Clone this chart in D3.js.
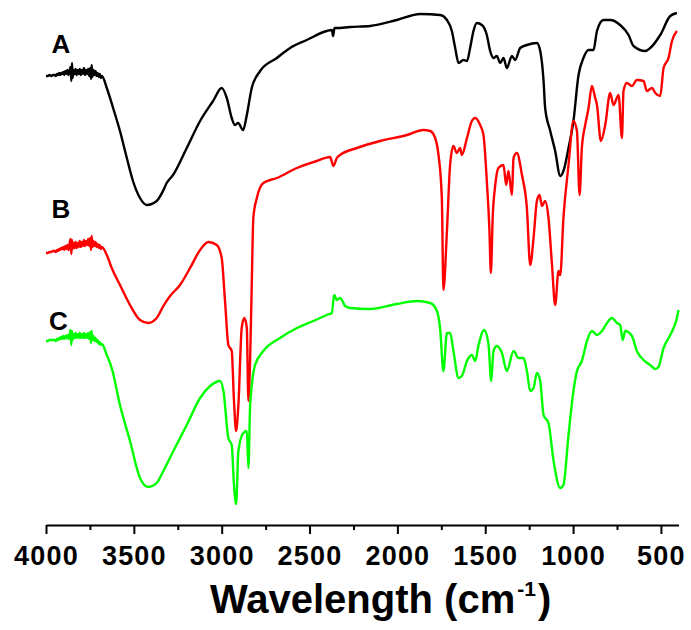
<!DOCTYPE html>
<html>
<head>
<meta charset="utf-8">
<script src="https://cdn.jsdelivr.net/npm/d3@7"></script>
<style>
  html, body { margin: 0; padding: 0; background: #fff; }
  svg { display: block; }
  text { font-family: "Liberation Sans", Arial, sans-serif; font-weight: bold; }
</style>
</head>
<body>
<svg id="chart" width="691" height="630"></svg>
<script>
// ---- data (wavenumber cm-1, transmittance in arbitrary offset units) ----
const spectrumA = [
  [4000,444],[3990,444],[3980,445],[3970,444],[3960,445],
  [3950,445],[3944,444],[3938,446],[3932,445],[3926,447],[3920,445],[3914,447],[3908,446],[3902,448],
  [3896,445],[3890,449],[3884,446],[3878,450],[3872,445],[3866,449],[3860,453],[3856,439],[3852,457],
  [3848,442],[3844,450],[3838,446],[3832,451],[3826,445],[3820,450],[3814,446],[3808,451],[3802,445],
  [3796,450],[3790,446],[3784,452],[3778,445],[3772,450],[3766,446],[3760,451],[3754,444],[3748,452],
  [3744,441],[3740,455],[3736,443],[3730,450],[3724,445],[3718,449],[3712,444],[3706,447],[3700,443],
  [3694,446],[3688,442],[3682,444],
  [3654,432],[3618,412],[3579,389],[3540,362],[3505,339],[3465,322],[3427,315],[3370,319],[3334,329],
  [3313,337],[3277,345],[3199,372],[3123,399],[3049,419],[3000,432],[2971,422],[2943,402],[2924,395],
  [2907,397],[2878,390],[2857,405],[2829,432],[2781,449],[2686,462],[2611,472],[2516,480],[2402,489],
  [2373,490],[2366,484],[2358,492],[2345,492],[2269,493],[2155,494],[2003,500],[1870,506],[1757,505],
  [1718,500],[1690,489],[1671,472],[1652,457],[1624,460],[1604,459],[1586,472],[1567,489],[1548,497],
  [1519,495],[1491,485],[1472,469],[1453,462],[1434,464],[1415,457],[1396,462],[1377,452],[1348,464],
  [1330,460],[1301,472],[1263,475],[1206,477],[1187,469],[1168,439],[1159,412],[1130,389],[1102,369],
  [1073,344],[1055,349],[1026,372],[998,399],[969,445],[941,462],[912,470],[884,470],[864,489],
  [827,500],[789,500],[732,495],[684,485],[656,474],[589,469],[561,472],[504,485],[447,504],[409,507]
];
const spectrumB = [
  [4000,267],[3990,267],[3980,268],[3970,268],[3960,269],
  [3950,269],[3944,268],[3938,270],[3932,269],[3926,271],[3920,270],[3914,272],[3908,271],[3902,273],
  [3896,270],[3890,274],[3884,271],[3878,275],[3872,270],[3866,276],[3860,281],[3856,266],[3852,280],
  [3848,271],[3844,277],[3838,272],[3832,278],[3826,272],[3820,277],[3814,273],[3808,279],[3802,273],
  [3796,278],[3790,274],[3784,280],[3778,274],[3772,279],[3766,275],[3760,281],[3754,274],[3748,282],
  [3744,270],[3740,284],[3736,273],[3730,279],[3724,274],[3718,278],[3712,273],[3706,276],[3700,272],
  [3694,275],[3688,271],[3682,273],
  [3654,265],[3626,252],[3579,235],[3522,215],[3465,200],[3418,197],[3370,202],[3332,214],[3294,224],
  [3237,235],[3180,252],[3123,270],[3076,278],[3028,275],[3000,262],[2981,219],[2962,175],[2943,169],
  [2930,119],[2918,89],[2905,115],[2886,192],[2871,202],[2857,192],[2848,119],[2838,162],[2829,235],
  [2820,302],[2800,322],[2763,337],[2686,342],[2572,352],[2459,359],[2383,363],[2364,354],[2345,362],
  [2326,365],[2231,372],[2098,379],[1946,385],[1852,390],[1813,389],[1785,382],[1766,365],[1747,322],
  [1738,230],[1718,289],[1700,355],[1681,374],[1662,367],[1643,372],[1633,365],[1604,382],[1576,399],
  [1557,402],[1529,395],[1510,385],[1491,339],[1476,289],[1468,247],[1457,305],[1443,335],[1425,352],
  [1396,355],[1381,335],[1368,349],[1348,325],[1339,362],[1320,367],[1291,345],[1263,312],[1244,255],
  [1225,282],[1206,319],[1191,325],[1177,314],[1159,319],[1140,302],[1120,255],[1102,215],[1083,249],
  [1073,245],[1055,302],[1026,355],[998,399],[978,389],[963,325],[950,372],[931,395],[912,412],
  [893,434],[874,422],[864,415],[842,379],[817,395],[789,427],[770,415],[741,425],[722,382],[713,429],
  [694,437],[665,434],[637,440],[599,439],[580,429],[551,432],[532,427],[504,424],[485,452],[457,462],
  [437,479],[409,489]
];
const spectrumC = [
  [4000,179],[3990,179],[3980,180],[3970,180],[3960,180],
  [3950,180],[3944,179],[3938,181],[3932,180],[3926,182],[3920,181],[3914,183],[3908,181],[3902,184],
  [3896,181],[3890,184],[3884,182],[3878,185],[3872,181],[3866,185],[3860,190],[3856,175],[3852,189],
  [3848,180],[3844,186],[3838,182],[3832,187],[3826,182],[3820,186],[3814,182],[3808,187],[3802,182],
  [3796,186],[3790,182],[3784,187],[3778,182],[3772,186],[3766,182],[3760,187],[3754,181],[3748,188],
  [3744,177],[3740,189],[3736,180],[3730,184],[3724,179],[3718,182],[3712,178],[3706,180],[3700,176],
  [3694,178],[3688,175],[3682,176],
  [3654,165],[3626,152],[3579,115],[3522,79],[3465,42],[3418,33],[3370,37],[3332,49],[3275,69],
  [3199,95],[3123,122],[3066,134],[3009,139],[2990,129],[2962,82],[2943,75],[2930,35],[2918,16],
  [2905,69],[2877,87],[2857,89],[2848,52],[2838,115],[2810,155],[2763,169],[2668,182],[2572,192],
  [2478,199],[2402,205],[2373,207],[2360,225],[2345,220],[2326,222],[2297,214],[2269,212],[2155,211],
  [2003,216],[1889,219],[1813,217],[1775,209],[1757,192],[1738,149],[1718,187],[1700,187],[1681,169],
  [1652,142],[1633,144],[1604,159],[1576,165],[1557,159],[1538,175],[1506,190],[1481,175],[1466,139],
  [1453,169],[1434,174],[1405,167],[1377,149],[1339,169],[1311,162],[1282,162],[1263,149],[1244,129],
  [1225,132],[1206,147],[1187,139],[1168,105],[1140,97],[1111,59],[1073,32],[1055,35],[1026,85],
  [998,129],[978,149],[950,159],[921,179],[893,189],[864,185],[836,189],[807,197],[779,202],[750,197],
  [732,195],[718,180],[703,189],[665,184],[637,169],[599,160],[561,155],[532,151],[514,153],[485,172],
  [447,185],[409,202],[400,210]
];
const seriesNames = ["A", "B", "C"];
const seriesColors = ["#000000", "#ff0000", "#00ff00"];
const labelValues = [467, 302, 190];          // baseline level (data units) of each series label
const majorTicks = [4000, 3500, 3000, 2500, 2000, 1500, 1000, 500];
const minorTicks = [3750, 3250, 2750, 2250, 1750, 1250, 750];
const xTitle = "Wavelength (cm";
const xTitleSup = "-1";

// ---- layout ----
const svg = d3.select("#chart");
const x = d3.scaleLinear().domain([4000, 400]).range([46, 678.5]);
const y = d3.scaleLinear().domain([0, 500]).range([520, 20]);
const axisY = 525;

// minor ticks
svg.append("g")
  .attr("transform", `translate(0,${axisY})`)
  .call(d3.axisBottom(x).tickValues(minorTicks).tickSize(5).tickSizeOuter(0).tickFormat(""))
  .call(g => g.select(".domain").remove())
  .call(g => g.selectAll("line").attr("stroke", "#000").attr("stroke-width", 2));

// major axis
const ax = svg.append("g")
  .attr("transform", `translate(0,${axisY})`)
  .call(d3.axisBottom(x).tickValues(majorTicks).tickSize(9).tickSizeOuter(0).tickPadding(12).tickFormat(d3.format("d")));
ax.select(".domain").attr("stroke", "#000").attr("stroke-width", 2.2);
ax.selectAll("line").attr("stroke", "#000").attr("stroke-width", 2);
ax.selectAll("text")
  .attr("fill", "#000")
  .style("font-size", "27px")
  .style("letter-spacing", "1.2px")
  .style("font-weight", "bold");

// axis title
const title = svg.append("text")
  .attr("x", 210).attr("y", 613)
  .attr("fill", "#000")
  .style("font-size", "40px");
title.append("tspan").text(xTitle);
title.append("tspan").attr("dy", -17).attr("dx", 2).style("font-size", "21px").text(xTitleSup);
title.append("tspan").attr("dy", 17).attr("dx", 2).text(")");

// spectra
const line = d3.line().x(d => x(d[0])).y(d => y(d[1])).curve(d3.curveMonotoneX);
const spectra = [spectrumA, spectrumB, spectrumC];
spectra.forEach((s, i) => {
  svg.append("path")
    .datum(s)
    .attr("fill", "none")
    .attr("stroke", seriesColors[i])
    .attr("stroke-width", 2.4)
    .attr("stroke-linejoin", "round")
    .attr("d", line);
});

// series labels
seriesNames.forEach((n, i) => {
  svg.append("text")
    .attr("x", i === 2 ? 49 : 51.5)
    .attr("y", y(labelValues[i]))
    .attr("fill", "#000")
    .style("font-size", "26px")
    .text(n);
});
</script>
</body>
</html>
